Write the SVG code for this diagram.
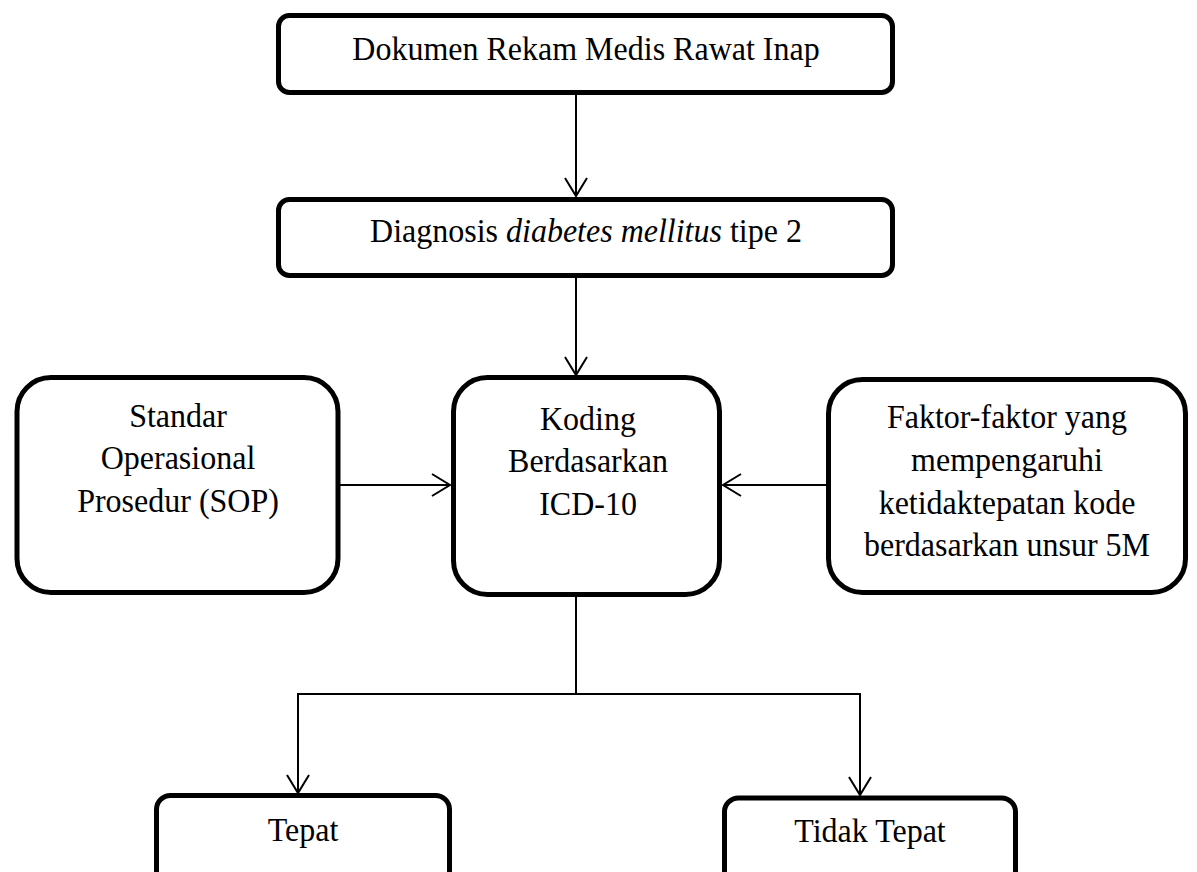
<svg xmlns="http://www.w3.org/2000/svg" width="1197" height="872" viewBox="0 0 1197 872">
  <style>
    .box { fill: #ffffff; stroke: #000000; stroke-width: 5; }
    .txt { font-family: "Liberation Serif", "Times New Roman", serif; font-size: 34.5px; fill: #000000; text-anchor: middle; }
    .conn { fill: none; stroke: #000000; stroke-width: 2; }
  </style>
  <defs>
    <marker id="arrow" markerUnits="userSpaceOnUse" viewBox="-1 -1 21 25" markerWidth="21" markerHeight="25" refX="18" refY="11" orient="auto">
      <path d="M0,0 L18,11 L0,22" fill="none" stroke="#000000" stroke-width="2"/>
    </marker>
  </defs>
  <rect width="1197" height="872" fill="#ffffff"/>

  <g id="connectors">
    <line class="conn" x1="576" y1="95" x2="576" y2="196" marker-end="url(#arrow)"/>
    <line class="conn" x1="576" y1="278" x2="576" y2="375" marker-end="url(#arrow)"/>
    <line class="conn" x1="340" y1="485" x2="450" y2="485" marker-end="url(#arrow)"/>
    <line class="conn" x1="826" y1="485" x2="723" y2="485" marker-end="url(#arrow)"/>
    <polyline class="conn" points="576,597 576,694"/>
    <polyline class="conn" points="298,793 298,694 860,694 860,795"/>
    <line class="conn" x1="298" y1="700" x2="298" y2="793" marker-end="url(#arrow)"/>
    <line class="conn" x1="860" y1="700" x2="860" y2="795" marker-end="url(#arrow)"/>
  </g>

  <g id="node-dokumen">
    <rect class="box" x="278.5" y="15.5" width="614" height="77" rx="11"/>
    <g transform="translate(586 0) scale(0.9275 1)">
      <text class="txt" x="0" y="60">Dokumen Rekam Medis Rawat Inap</text>
    </g>
  </g>

  <g id="node-diagnosis">
    <rect class="box" x="278.5" y="199.5" width="614" height="76" rx="11"/>
    <g transform="translate(586 0) scale(0.9275 1)">
      <text class="txt" x="0" y="242">Diagnosis <tspan font-style="italic">diabetes mellitus</tspan> tipe 2</text>
    </g>
  </g>

  <g id="node-sop">
    <rect class="box" x="17" y="377.5" width="321" height="215" rx="34"/>
    <g transform="translate(178 0) scale(0.9275 1)">
      <text class="txt" x="0" y="427">Standar</text>
      <text class="txt" x="0" y="469">Operasional</text>
      <text class="txt" x="0" y="512">Prosedur (SOP)</text>
    </g>
  </g>

  <g id="node-koding">
    <rect class="box" x="453.5" y="377.5" width="266" height="217" rx="34"/>
    <g transform="translate(588 0) scale(0.9275 1)">
      <text class="txt" x="0" y="430">Koding</text>
      <text class="txt" x="0" y="472">Berdasarkan</text>
      <text class="txt" x="0" y="515">ICD-10</text>
    </g>
  </g>

  <g id="node-faktor">
    <rect class="box" x="828.5" y="379.5" width="357" height="213" rx="34"/>
    <g transform="translate(1007 0) scale(0.9275 1)">
      <text class="txt" x="0" y="428">Faktor-faktor yang</text>
      <text class="txt" x="0" y="471">mempengaruhi</text>
      <text class="txt" x="0" y="514">ketidaktepatan kode</text>
      <text class="txt" x="0" y="556">berdasarkan unsur 5M</text>
    </g>
  </g>

  <g id="node-tepat">
    <rect class="box" x="156.5" y="795.5" width="293" height="110" rx="14"/>
    <g transform="translate(303 0) scale(0.9275 1)">
      <text class="txt" x="0" y="841">Tepat</text>
    </g>
  </g>

  <g id="node-tidak-tepat">
    <rect class="box" x="724.5" y="798" width="291" height="110" rx="14"/>
    <g transform="translate(870 0) scale(0.9275 1)">
      <text class="txt" x="0" y="842">Tidak Tepat</text>
    </g>
  </g>
</svg>
